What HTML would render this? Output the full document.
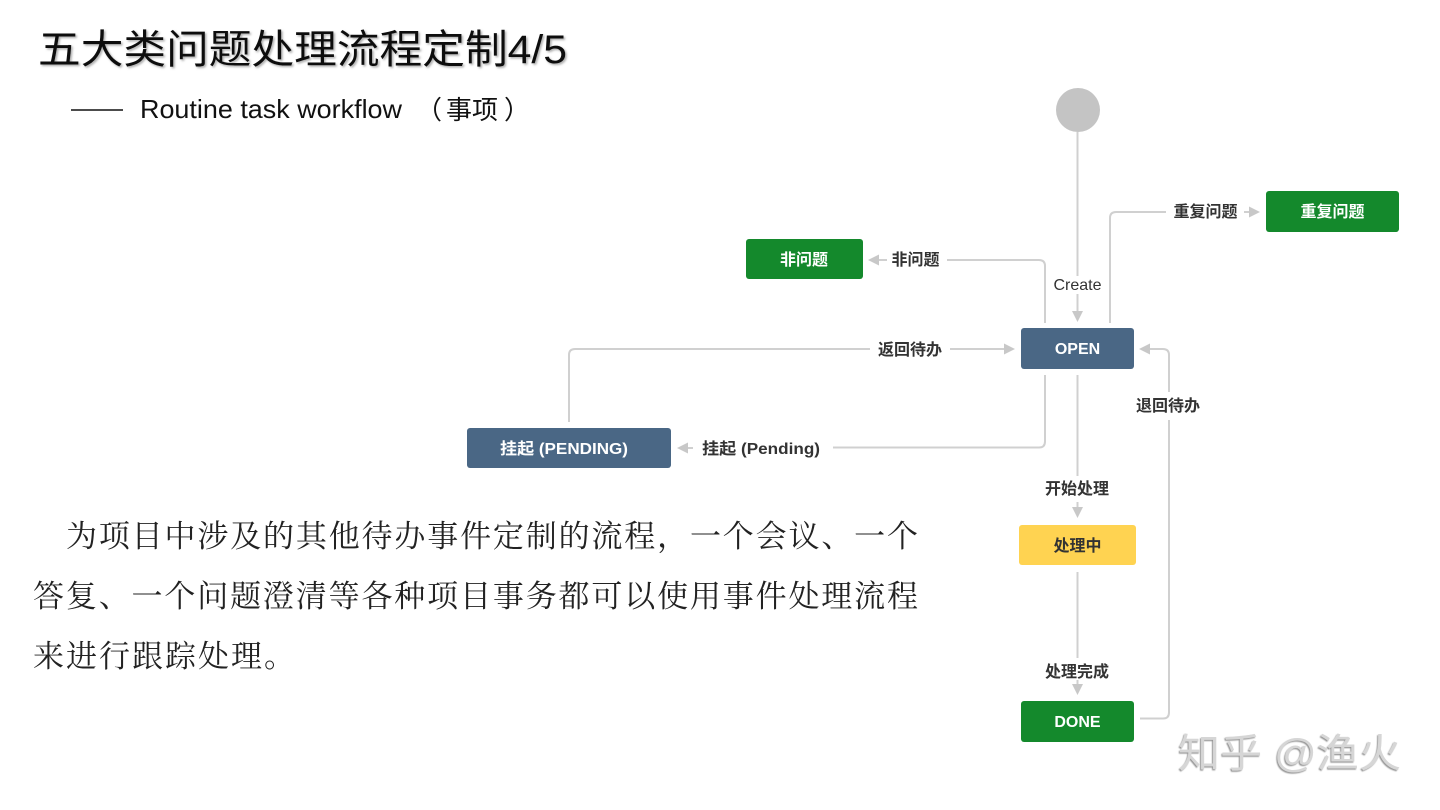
<!DOCTYPE html>
<html><head><meta charset="utf-8">
<style>
html,body{margin:0;padding:0;background:#fff;}
svg{display:block;}
.title{font-family:"Liberation Sans","Noto Sans CJK SC",sans-serif;font-size:40px;fill:#111;}
.sub{font-family:"Liberation Sans","Noto Sans CJK SC",sans-serif;font-size:26px;fill:#111;}
.body{font-family:"Liberation Serif","Noto Serif CJK SC",serif;font-size:31px;fill:#222;}
.lbl{font-family:"Liberation Sans","Noto Sans CJK SC",sans-serif;font-size:16px;font-weight:bold;fill:#333;}
.lbln{font-family:"Liberation Sans","Noto Sans CJK SC",sans-serif;font-size:16px;fill:#333;}
.node{font-family:"Liberation Sans","Noto Sans CJK SC",sans-serif;font-size:16px;font-weight:bold;fill:#fff;}
.wm{font-family:"Liberation Sans","Noto Sans CJK SC",sans-serif;font-size:40px;fill:#d6d6d6;}
.ln{fill:none;stroke:#d0d0d0;stroke-width:2;}
.ah{fill:#c8c8c8;}
</style></head><body>
<svg width="1440" height="810" viewBox="0 0 1440 810" xmlns="http://www.w3.org/2000/svg">
<defs>
<filter id="ts" x="-5%" y="-30%" width="110%" height="160%"><feDropShadow dx="1.5" dy="1.5" stdDeviation="1" flood-color="#666" flood-opacity="0.55"/></filter>
<filter id="wmf" x="-5%" y="-30%" width="110%" height="160%"><feDropShadow dx="-1" dy="1.2" stdDeviation="0.4" flood-color="#888" flood-opacity="0.9"/></filter>
</defs>
<rect width="1440" height="810" fill="#fff"/>

<!-- Title -->
<text class="title" x="38" y="63" textLength="529" lengthAdjust="spacingAndGlyphs" filter="url(#ts)">五大类问题处理流程定制4/5</text>

<!-- Subtitle -->
<line x1="71" y1="110" x2="123" y2="110" stroke="#111" stroke-width="1.6"/>
<text class="sub" x="140" y="118" textLength="262" lengthAdjust="spacingAndGlyphs">Routine task workflow</text>
<text class="sub" x="416" y="119" font-size="24">（</text>
<text class="sub" x="446" y="119" font-size="24">事项</text>
<text class="sub" x="504" y="119" font-size="24">）</text>

<!-- Body -->
<text class="body" x="66" y="547" textLength="852" lengthAdjust="spacing">为项目中涉及的其他待办事件定制的流程，一个会议、一个</text>
<text class="body" x="33" y="607" textLength="885" lengthAdjust="spacing">答复、一个问题澄清等各种项目事务都可以使用事件处理流程</text>
<text class="body" x="33" y="667" textLength="262" lengthAdjust="spacing">来进行跟踪处理。</text>

<!-- Start circle -->
<circle cx="1078" cy="110" r="22" fill="#c4c4c4"/>

<!-- Connectors -->
<path class="ln" d="M1077.5 132 V276"/>
<path class="ln" d="M1077.5 294 V312"/>
<polygon class="ah" points="1072,311 1083,311 1077.5,322"/>
<text class="lbln" x="1077.5" y="290" text-anchor="middle">Create</text>

<!-- 非问题 -->
<path class="ln" d="M1045 323 V266 Q1045 260 1039 260 H947"/>
<path class="ln" d="M878 260 H887"/>
<polygon class="ah" points="879,254.5 879,265.5 868,260"/>
<text class="lbl" x="915.5" y="265" text-anchor="middle">非问题</text>

<!-- 重复问题 -->
<path class="ln" d="M1110 323 V218 Q1110 212 1116 212 H1166"/>
<path class="ln" d="M1244 212 H1250"/>
<polygon class="ah" points="1249,206.5 1249,217.5 1260,212"/>
<text class="lbl" x="1205.5" y="217" text-anchor="middle">重复问题</text>

<!-- 返回待办 -->
<path class="ln" d="M569 422 V355 Q569 349 575 349 H870"/>
<path class="ln" d="M950 349 H1005"/>
<polygon class="ah" points="1004,343.5 1004,354.5 1015,349"/>
<text class="lbl" x="910" y="355" text-anchor="middle">返回待办</text>

<!-- 挂起 (Pending) -->
<path class="ln" d="M1045 375 V441.5 Q1045 447.5 1039 447.5 H833"/>
<path class="ln" d="M687 448 H693"/>
<polygon class="ah" points="688,442.5 688,453.5 677,448"/>
<text class="lbl" x="702" y="454" textLength="118" lengthAdjust="spacingAndGlyphs">挂起 (Pending)</text>

<!-- 开始处理 -->
<path class="ln" d="M1077.5 375 V476"/>
<path class="ln" d="M1077.5 502 V508"/>
<polygon class="ah" points="1072,507 1083,507 1077.5,518"/>
<text class="lbl" x="1077" y="494" text-anchor="middle">开始处理</text>

<!-- 处理完成 -->
<path class="ln" d="M1077.5 572 V658"/>
<path class="ln" d="M1077.5 680 V685"/>
<polygon class="ah" points="1072,684 1083,684 1077.5,695"/>
<text class="lbl" x="1077" y="677" text-anchor="middle">处理完成</text>

<!-- 退回待办 -->
<path class="ln" d="M1140 718.5 H1163 Q1169 718.5 1169 712.5 V420"/>
<path class="ln" d="M1169 392 V355 Q1169 349 1163 349 H1149"/>
<polygon class="ah" points="1150,343.5 1150,354.5 1139,349"/>
<text class="lbl" x="1168" y="411" text-anchor="middle">退回待办</text>

<!-- Nodes -->
<rect x="1021" y="328" width="113" height="41" rx="3" fill="#4a6785"/>
<text class="node" x="1077.5" y="354" text-anchor="middle">OPEN</text>

<rect x="746" y="239" width="117" height="40" rx="3" fill="#14892c"/>
<text class="node" x="804" y="265" text-anchor="middle">非问题</text>

<rect x="1266" y="191" width="133" height="41" rx="3" fill="#14892c"/>
<text class="node" x="1332.5" y="217" text-anchor="middle">重复问题</text>

<rect x="467" y="428" width="204" height="40" rx="3" fill="#4a6785"/>
<text class="node" x="500" y="454" textLength="128" lengthAdjust="spacingAndGlyphs">挂起 (PENDING)</text>

<rect x="1019" y="525" width="117" height="40" rx="3" fill="#ffd351"/>
<text class="node" x="1077.5" y="551" text-anchor="middle" style="fill:#333">处理中</text>

<rect x="1021" y="701" width="113" height="41" rx="3" fill="#14892c"/>
<text class="node" x="1077.5" y="727" text-anchor="middle">DONE</text>

<!-- Watermark -->
<text class="wm" x="1178" y="767" textLength="223" lengthAdjust="spacingAndGlyphs" filter="url(#wmf)">知乎 @渔火</text>
</svg>
</body></html>
